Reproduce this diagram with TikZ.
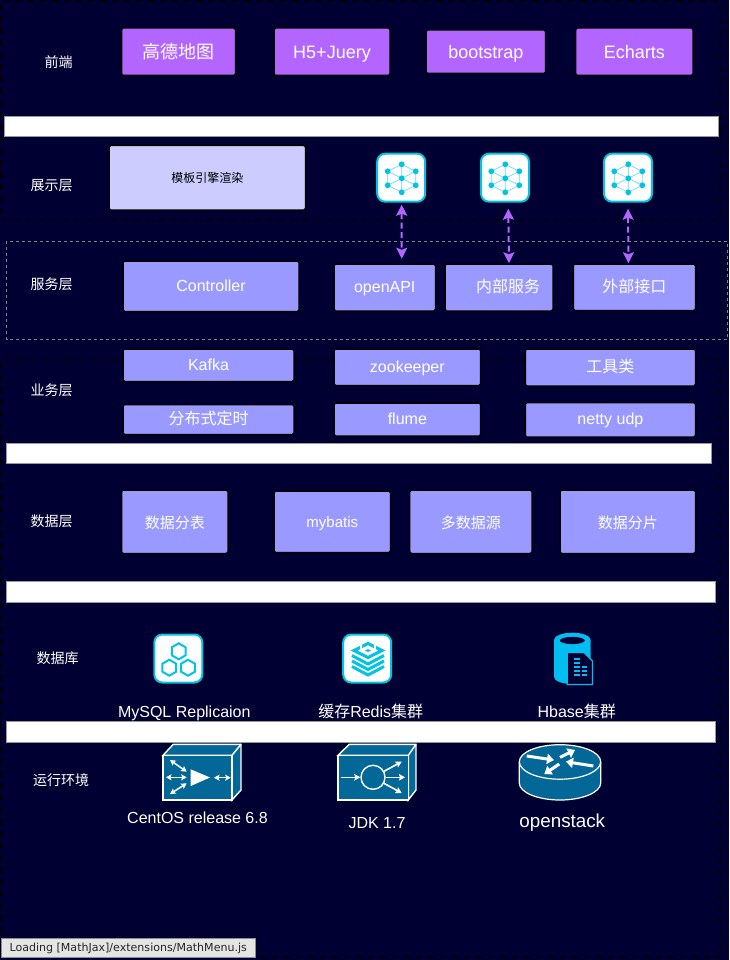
\documentclass[tikz,border=0pt]{standalone}
\usepackage{fontspec}
\setmainfont{Liberation Sans}
\newfontfamily\cjk{Noto Sans CJK SC}
\newfontfamily\loadfont{DejaVu Sans}
\usetikzlibrary{arrows.meta}
\definecolor{bgc}{HTML}{000033}
\definecolor{purp}{HTML}{B266FF}
\definecolor{peri}{HTML}{9999FF}
\definecolor{lav}{HTML}{CCCCFF}
\definecolor{cyn}{HTML}{00C4E0}
\definecolor{cynl}{HTML}{66DCEC}
\definecolor{azu}{HTML}{00BEF2}
\definecolor{cis}{HTML}{036897}
\newcommand\vt{\rule[-.17em]{0pt}{.98em}}
\newcommand\vtb{\rule[-.17em]{0pt}{1.14em}}
\newcommand\vtc{\rule[-.17em]{0pt}{1.18em}}
\tikzset{
  fa/.style={font=\fontsize{12}{14}\selectfont},
  fb/.style={font=\fontsize{14}{16}\selectfont},
  fc/.style={font=\fontsize{15}{18}\selectfont},
  fd/.style={font=\fontsize{16}{19}\selectfont},
  fe/.style={font=\fontsize{18}{21}\selectfont},
  txt/.style={text=white,inner sep=0pt,execute at begin node=\vt},
  cardbox/.style={draw=black,line width=1.5pt,rounded corners=1.5pt,inner sep=0pt,text=white,execute at begin node=\vt},
  pbox/.style={cardbox,fill=purp,fe,execute at begin node=\vtb},
  vbox/.style={cardbox,fill=peri,fd},
  vboxs/.style={cardbox,fill=peri,fc,execute at begin node=\vtc},
  lbox/.style={cardbox,fill=lav,text=black,fa,execute at begin node=\vtb},
  outerdash/.style={draw=black,line width=1.5pt,dash pattern=on 6pt off 6pt,rounded corners=3pt},
  graydash/.style={draw=white!50!black,line width=.7pt,dash pattern=on 3pt off 3pt},
  bar/.style={fill=white,draw=white!60!black,line width=.5pt},
  iconcard/.style={draw=cyn,fill=white,line width=2pt,rounded corners=8pt,minimum width=48pt,minimum height=48pt,inner sep=0pt},
  link/.style={draw=purp,line width=2pt,dash pattern=on 6pt off 3.5pt,{Stealth[length=11pt,width=11pt,inset=2pt]}-{Stealth[length=11pt,width=11pt,inset=2pt]}},
  cube/.style={fill=cis,draw=white,line width=1.4pt,line join=miter},
  wa/.style={draw=white,line width=1.6pt,-{Stealth[length=6pt,width=6.5pt,inset=1pt]}},
  wb/.style={draw=white,line width=1.5pt,{Stealth[length=5.5pt,width=6pt,inset=1pt]}-{Stealth[length=5.5pt,width=6pt,inset=1pt]}},
  wc/.style={draw=white,line width=3pt,-{Stealth[length=7pt,width=10pt,inset=0pt]}},
  net/.pic={
    \draw[cynl,line width=.7pt] (0,-14)--(14,-7)--(14,7)--(0,14)--(-14,7)--(-14,-7)--cycle
      (0,-14)--(0,14) (-14,-7)--(14,7) (14,-7)--(-14,7);
    \foreach \p in {(0,-14),(14,-7),(14,7),(0,14),(-14,7),(-14,-7),(0,0)}
      \fill[cyn] \p circle (2.9);
  },
}
% \mybox{name}{x1}{y1}{x2}{y2}{style}{text}
\newcommand\mybox[7]{%
  \pgfmathsetmacro\bcx{(#2+#4)/2}\pgfmathsetmacro\bcy{(#3+#5)/2}%
  \pgfmathsetmacro\bw{#4-#2}\pgfmathsetmacro\bh{#5-#3}%
  \node[#6,minimum width=\bw pt,minimum height=\bh pt] (#1) at (\bcx,\bcy) {#7};}
\begin{document}
\begin{tikzpicture}[x=1pt,y=-1pt]
\useasboundingbox (0,0) rectangle (729,960);
\fill[bgc] (0,0) rectangle (729,960);
% group frames
\draw[outerdash] (1,1) rectangle (720,220);
\draw[outerdash] (1,359.5) rectangle (720,957);
\draw[graydash] (6.5,241) rectangle (727,339.5);
% white bars
\draw[bar] (4,116) rectangle (718,136);
\draw[bar] (6.5,443) rectangle (711,463);
\draw[bar] (6.5,581.5) rectangle (715,602);
\draw[bar] (6.5,721.5) rectangle (715,742);
% left labels
\node[txt,fb] (l1) at (58.7,62.3) {\cjk 前端};
\node[txt,fb] (l2) at (51.7,186.3) {\cjk 展示层};
\node[txt,fb] (l3) at (51.7,285.3) {\cjk 服务层};
\node[txt,fb] (l4) at (51.7,390.3) {\cjk 业务层};
\node[txt,fb] (l5) at (51.7,521.3) {\cjk 数据层};
\node[txt,fb] (l6) at (57.7,658.3) {\cjk 数据库};
\node[txt,fb] (l7) at (61,780.3) {\cjk 运行环境};
% front end
\mybox{a1}{121.5}{28}{235.5}{75.5}{pbox}{\cjk 高德地图}
\mybox{a2}{274}{28}{390}{75.5}{pbox}{H5+Juery}
\mybox{a3}{426}{30}{545.7}{73.5}{pbox}{bootstrap}
\mybox{a4}{575.7}{28}{693}{75.5}{pbox}{Echarts}
% presentation
\mybox{b1}{109}{145.5}{305.5}{210}{lbox}{\cjk 模板引擎渲染}
\node[iconcard] (i1) at (401.2,177.7) {};
\node[iconcard] (i2) at (505,177.7) {};
\node[iconcard] (i3) at (628,177.7) {};
\pic at (401.7,178.3) {net};
\pic at (505.3,178.3) {net};
\pic at (628.3,178.3) {net};
% service
\mybox{c1}{123}{261}{299}{311.5}{vbox}{Controller}
\mybox{c2}{334}{264}{435.5}{311}{vbox}{openAPI}
\mybox{c3}{445}{264}{553}{311}{vbox}{\hspace{18pt}\cjk 内部服务}
\mybox{c4}{573.3}{264}{695.5}{310.5}{vbox}{\cjk 外部接口}
\draw[link] ([xshift=.5pt,yshift=-2pt]i1.south) -- ([xshift=17pt,yshift=4.5pt]c2.north);
\draw[link] ([xshift=3.3pt,yshift=-6pt]i2.south) -- ([xshift=10pt]c3.north);
\draw[link] ([yshift=-6pt]i3.south) -- ([xshift=-5.9pt]c4.north);
% business
\mybox{d1}{123}{349}{294}{381.5}{vbox}{Kafka}
\mybox{d2}{334}{349}{480.7}{385.5}{vbox}{zookeeper}
\mybox{d3}{525.3}{349}{695.5}{386}{vbox}{\cjk 工具类}
\mybox{d4}{123}{404.5}{294}{434.5}{vbox}{\cjk 分布式定时}
\mybox{d5}{334}{403}{480.7}{436}{vbox}{flume}
\mybox{d6}{525.3}{402.5}{695.5}{437}{vbox}{netty udp}
% data
\mybox{e1}{121.5}{490}{228}{553.5}{vboxs}{\cjk 数据分表}
\mybox{e2}{274}{491}{390.5}{552.5}{vboxs}{mybatis}
\mybox{e3}{409.7}{490}{532}{553.5}{vboxs}{\cjk 多数据源}
\mybox{e4}{560}{490}{695.5}{553.5}{vboxs}{\cjk 数据分片}
% database icons
\node[iconcard] (m1) at (178.3,658.5) {};
\draw[cyn,line width=2pt] (178.7,643.3)--(185.6,647.3)--(185.6,655.3)--(178.7,659.3)--(171.8,655.3)--(171.8,647.3)--cycle;
\draw[cyn,line width=2pt] (169.3,659.7)--(176.2,663.7)--(176.2,671.7)--(169.3,675.7)--(162.4,671.7)--(162.4,663.7)--cycle;
\draw[cyn,line width=2pt] (188,659.7)--(194.9,663.7)--(194.9,671.7)--(188,675.7)--(181.1,671.7)--(181.1,663.7)--cycle;
\node[iconcard] (m2) at (367.2,658.5) {};
\begin{scope}[shift={(368,658.5)}]
  \draw[cyn,line width=3pt,line join=miter] (0,-15)--(14,-8)--(0,-1)--(-14,-8)--cycle;
  \draw[white,line width=2pt] (-7,-14)--(-7,-9) (7,-14)--(7,-9);
  \fill[cyn] (-3,-8)--(0,-9.5)--(3,-8)--(0,-6.5)--cycle;
  \draw[cyn,line width=3pt,line join=miter] (-16,-3)--(0,5.5)--(16,-3);
  \draw[cyn,line width=3pt,line join=miter] (-16,2.5)--(0,11)--(16,2.5);
  \draw[cyn,line width=3pt,line join=miter] (-16,8)--(0,16.5)--(16,8);
\end{scope}
% Hbase icon
\fill[azu] (554,640) arc[start angle=180,end angle=360,x radius=18.35,y radius=7.3] -- (590.7,677) arc[start angle=0,end angle=180,x radius=18.35,y radius=7] -- cycle;
\fill[bgc] (572.35,640.5) ellipse[x radius=12.5,y radius=3.6];
\draw[azu,line width=1.3pt,fill=bgc,line join=miter] (567.3,652.5)--(584,652.5)--(592.5,661)--(592.5,684.4)--(567.3,684.4)--cycle;
\draw[azu,line width=2pt]
  (574,659.3)--(580,659.3) (574,662.7)--(580,662.7)
  (574,667.3)--(579.5,667.3) (581.5,667.3)--(587,667.3)
  (574,671.3)--(579.5,671.3) (581.5,671.3)--(587,671.3)
  (574,675.3)--(579.5,675.3) (581.5,675.3)--(587,675.3);
% db labels
\node[txt,fd] (t1) at (184.3,713) {MySQL Replicaion};
\node[txt,fd] (t2) at (370.7,712) {{\cjk 缓存}Redis{\cjk 集群}};
\node[txt,fd] (t3) at (576.7,712) {Hbase{\cjk 集群}};
% CentOS cube
\draw[cube] (163,755.3)--(173.3,744.3)--(241,744.3)--(241,790)--(232,800)--(232,755.3)--cycle;
\draw[cube] (163,755.3) rectangle (232,800);
\draw[cube] (232,755.3)--(241,744.3);
\fill[white] (190.7,769.3)--(190.7,786)--(210,777.5)--cycle;
\draw[wb] (170,760)--(186.7,771.7);
\draw[wb] (166,777.3)--(186.7,777.3);
\draw[wb] (170,794)--(186.7,783.3);
\draw[wb] (214,777.7)--(230.7,777.7);
% JDK cube
\draw[cube] (338,755.3)--(349.3,744.3)--(416,744.3)--(416,790)--(408.3,800)--(408.3,755.3)--cycle;
\draw[cube] (338,755.3) rectangle (408.3,800);
\draw[cube] (408.3,755.3)--(416,744.3);
\node[draw=white,line width=1.4pt,circle,minimum size=24pt,inner sep=0pt] (j0) at (373,777.3) {};
\draw[wa] (340.7,777.3)--(j0);
\draw[wa] (j0)--(401.7,761.7);
\draw[wa] (j0)--(405,777.3);
\draw[wa] (j0)--(401.7,793);
% router
\draw[fill=cis,draw=white,line width=1.2pt] (519.3,761.7) arc[start angle=180,end angle=360,x radius=40.7,y radius=17] -- (600.7,783) arc[start angle=0,end angle=180,x radius=40.7,y radius=17] -- cycle;
\draw[white,line width=1.2pt] (519.3,761.7) arc[start angle=180,end angle=0,x radius=40.7,y radius=17.5];
\draw[wc] (526.7,756)--(554,760);
\draw[wc] (560,757.3)--(575,750);
\draw[wc] (593.3,766)--(566,761.7);
\draw[wc] (559.3,764)--(544.3,774);
% environment labels
\node[txt,fd] (t4) at (197.5,818) {CentOS release 6.8};
\node[txt,fd] (t5) at (377,823) {JDK 1.7};
\node[txt,font=\fontsize{18.8}{22}\selectfont] (t6) at (562.3,822) {openstack};
% status box
\node[draw=white!55!black,fill=white!90!black,line width=.8pt,inner sep=0pt,minimum width=254.5pt,minimum height=19pt,text=black!85,font=\loadfont\fontsize{11.05}{13}\selectfont] (st) at (128.2,948) {Loading [MathJax]/extensions/MathMenu.js};
\end{tikzpicture}
\end{document}
